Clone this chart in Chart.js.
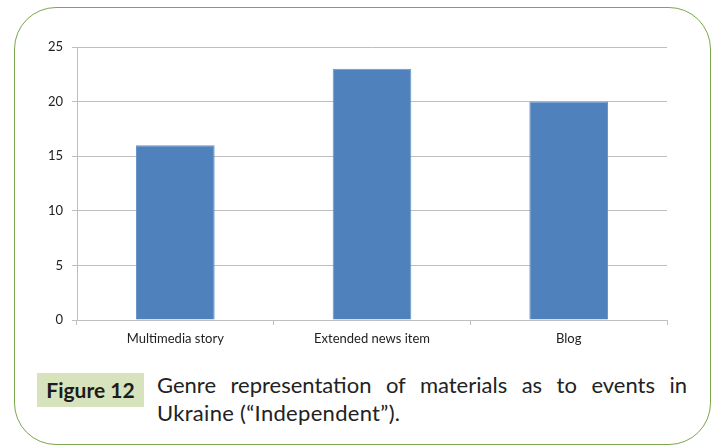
<!DOCTYPE html>
<html>
<head>
<meta charset="utf-8">
<script src="https://cdn.jsdelivr.net/npm/chart.js@4/dist/chart.umd.min.js"></script>
<style>
  html, body { margin: 0; padding: 0; background: #ffffff; }
  body { width: 717px; height: 446px; position: relative; overflow: hidden; }
  #frame { position: absolute; left: 14px; top: 7px; width: 697px; height: 438px;
           box-sizing: border-box; border: 1.5px solid #7aa74c; border-radius: 42px; }
  #wrap { position: absolute; left: 0; top: 0; width: 717px; height: 360px; }
  #figbox { position: absolute; left: 37px; top: 373px; width: 107px; height: 34px;
            background: #d7e3bd; color: #1c1c1c; font-family: Lato, "Open Sans", sans-serif;
            font-weight: bold; font-size: 21px; line-height: 34px; text-align: center; }
  .cap { position: absolute; left: 157px; width: 530px; white-space: nowrap;
         font-family: Lato, "Open Sans", sans-serif; font-size: 22px; line-height: 28px;
         color: #222222; }
  #cap1 { top: 371px; text-align: justify; text-align-last: justify; white-space: normal; }
  #cap2 { top: 399px; text-align: left; letter-spacing: 0.3px; }
</style>
</head>
<body>
<div id="frame"></div>
<div id="wrap"><canvas id="c" width="717" height="360"></canvas></div>
<div id="figbox">Figure 12</div>
<div id="cap1" class="cap">Genre representation of materials as to events in</div>
<div id="cap2" class="cap">Ukraine (“Independent”).</div>
<script>
const categories = ["Multimedia story", "Extended news item", "Blog"];
const values = [16, 23, 20];
const yMin = 0;
const yMax = 25;
const yStep = 5;

new Chart(document.getElementById('c'), {
  type: 'bar',
  data: {
    labels: categories,
    datasets: [{
      data: values,
      backgroundColor: '#4f81bd',
      borderColor: '#6a95c8',
      borderWidth: 1,
      barPercentage: 0.4,
      categoryPercentage: 1.0
    }]
  },
  options: {
    responsive: false,
    animation: false,
    devicePixelRatio: 1,
    layout: { padding: { left: 0, right: 50, top: 47, bottom: 0 } },
    plugins: { legend: { display: false }, tooltip: { enabled: false } },
    scales: {
      x: {
        grid: { display: true, drawOnChartArea: false, drawTicks: true, offset: true,
                tickLength: 5, color: '#bfbfbf', lineWidth: 1 },
        border: { display: true, color: '#bfbfbf', width: 1 },
        ticks: { color: '#222222', font: { family: 'Lato, "Open Sans", sans-serif', size: 13 }, padding: 6 },
        afterFit: function(s) { s.height = 40; }
      },
      y: {
        min: yMin, max: yMax,
        grid: { color: '#bfbfbf', lineWidth: 1, drawTicks: true, tickLength: 5 },
        border: { display: true, color: '#bfbfbf', width: 1 },
        ticks: { stepSize: yStep, color: '#222222', font: { family: 'Lato, "Open Sans", sans-serif', size: 13 }, padding: 9 },
        afterFit: function(s) { s.width = 77; }
      }
    }
  }
});
</script>
</body>
</html>
